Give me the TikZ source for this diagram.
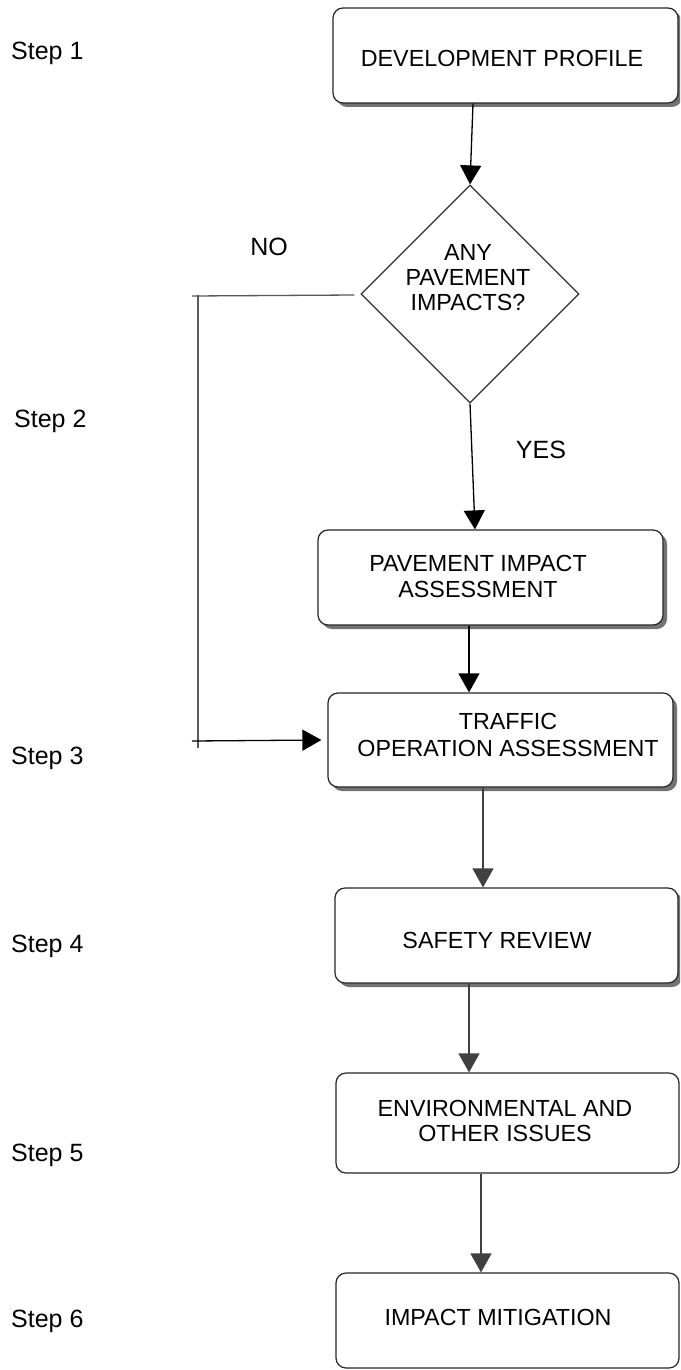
\documentclass[tikz,border=0pt]{standalone}
\usepackage{fontspec}
\setmainfont{Liberation Sans}
\usetikzlibrary{arrows.meta,shapes.geometric,shadows}
\begin{document}
\begin{tikzpicture}[x=1pt,y=-1pt,
  boxnode/.style={draw=black!85,line width=1.2pt,rounded corners=10pt,fill=white,
    minimum height=95pt,inner sep=0pt},
  shbox/.style={boxnode,drop shadow={shadow xshift=4pt,shadow yshift=-4pt,fill=black!55,opacity=1}},
  boxtext/.style={font=\fontsize{23.3}{26}\selectfont,align=center,text=black,inner sep=0pt},
  lbl/.style={font=\fontsize{25}{30}\selectfont,text=black,inner sep=0pt},
  conn/.style={line width=1.3pt,draw=black!80},
  arr/.style={conn,-{Triangle[length=19pt,width=21pt]}}
]
\clip (0,0) rectangle (680,1370);
\fill[white] (0,0) rectangle (680,1370);

% boxes
\node[shbox,minimum width=345pt,
  label={[boxtext,xshift=-3.5pt,yshift=-2.5pt,name=devT]center:DEVELOPMENT PROFILE}]
  (dev) at (505.5,55.5) {};
\node[draw=black!80,line width=1.2pt,diamond,aspect=1,minimum width=218pt,minimum height=218pt,
  inner sep=0pt,fill=white,
  label={[boxtext,font=\fontsize{23.3}{25}\selectfont,xshift=-2pt,yshift=16pt,name=diaT]center:{ANY\\PAVEMENT\\IMPACTS?}}]
  (dia) at (470,294) {};
\node[shbox,minimum width=345pt,
  label={[boxtext,xshift=-12.5pt,yshift=1pt,name=paveT]center:{PAVEMENT IMPACT\\ASSESSMENT}}]
  (pave) at (490.5,577.5) {};
\node[shbox,minimum width=345pt,minimum height=94pt,
  label={[boxtext,font=\fontsize{23.3}{27}\selectfont,xshift=7.5pt,yshift=5.5pt,name=trfT]center:{TRAFFIC\\OPERATION ASSESSMENT}}]
  (trf) at (500.5,740) {};
\node[shbox,minimum width=343pt,
  label={[boxtext,xshift=-9.5pt,yshift=-4.5pt,name=safT]center:SAFETY REVIEW}]
  (saf) at (506.5,935.5) {};
\node[boxnode,minimum width=343pt,minimum height=100pt,
  label={[boxtext,font=\fontsize{23.3}{25}\selectfont,xshift=-2.5pt,yshift=2.5pt,name=envT]center:{ENVIRONMENTAL AND\\OTHER ISSUES}}]
  (env) at (507.5,1123) {};
\node[boxnode,minimum width=343pt,
  label={[boxtext,xshift=-9.5pt,yshift=3.5pt,name=impT]center:IMPACT MITIGATION}]
  (imp) at (507.5,1320.5) {};

% connectors
\draw[arr,draw=black] ([xshift=-32.5pt]dev.south) -- (dia.north);
\draw[arr,draw=black] (dia.south) -- ([xshift=-15.5pt]pave.north);
\draw[arr,draw=black] ([xshift=-21.5pt]pave.south) -- ([xshift=-31.5pt]trf.north);
\draw[arr,draw=black!75,fill=black!75] ([xshift=-17.5pt]trf.south) -- ([xshift=-23.5pt]saf.north);
\draw[arr,draw=black!75,fill=black!75] ([xshift=-37.5pt]saf.south) -- ([xshift=-38.5pt]env.north);
\draw[arr,draw=black!75,fill=black!75] ([xshift=-26.5pt]env.south) -- ([xshift=-26.5pt]imp.north);

% NO branch
\coordinate (nTop) at (198,296);
\coordinate (nBot) at (198,741);
\draw[conn,draw=black!65] ([xshift=-6pt,yshift=-1pt]dia.west) -- ([xshift=-6pt]nTop);
\draw[conn,draw=black!65] ([yshift=1pt]nTop) -- ([yshift=-7pt]nBot);
\draw[arr,draw=black] ([xshift=-6pt]nBot) -- ([xshift=-6pt]trf.west);

% labels
\node[lbl,anchor=base] (no) at (269,255) {NO};
\node[lbl,anchor=base] (yes) at (541,458) {YES};
\node[lbl,anchor=base west] (s1) at (11,60) {Step 1};
\node[lbl,anchor=base west] (s2) at (14,427) {Step 2};
\node[lbl,anchor=base west] (s3) at (11,764) {Step 3};
\node[lbl,anchor=base west] (s4) at (11,952) {Step 4};
\node[lbl,anchor=base west] (s5) at (11,1161) {Step 5};
\node[lbl,anchor=base west] (s6) at (11,1327) {Step 6};
\end{tikzpicture}
\end{document}
